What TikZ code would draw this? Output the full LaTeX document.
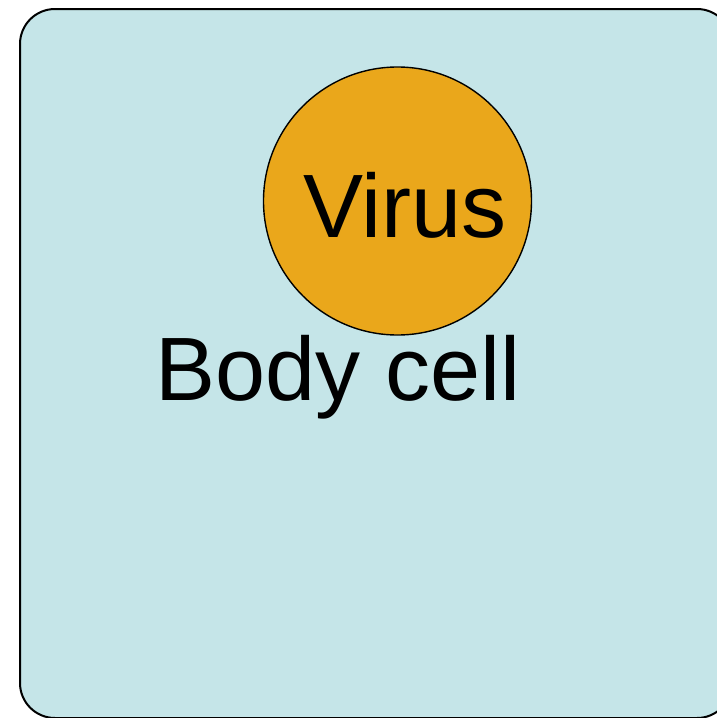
\documentclass[tikz,border=0pt]{standalone}
\usepackage{fontspec}
\setmainfont{Liberation Sans}
\definecolor{cellblue}{RGB}{197,229,232}
\definecolor{virusorange}{RGB}{234,167,27}
\begin{document}
\begin{tikzpicture}[x=1pt,y=-1pt,
  cellbox/.style={draw=black,line width=2pt,fill=cellblue,rounded corners=35pt},
  virusdot/.style={draw=black,line width=1.4pt,fill=virusorange},
  lbl/.style={font=\fontsize{90}{90}\selectfont,inner sep=0pt,anchor=base west}]
\useasboundingbox (0,0) rectangle (717,718);
\begin{scope}
\clip (0,0) rectangle (717,718);
\draw[cellbox] (20,9) rectangle (732,718);
\end{scope}
\draw[virusdot] (397.5,201) circle[radius=134];
\node[lbl] (virus) at (303,237) {Virus};
\node[lbl] (body) at (155,400) {Body cell};
\end{tikzpicture}
\end{document}
